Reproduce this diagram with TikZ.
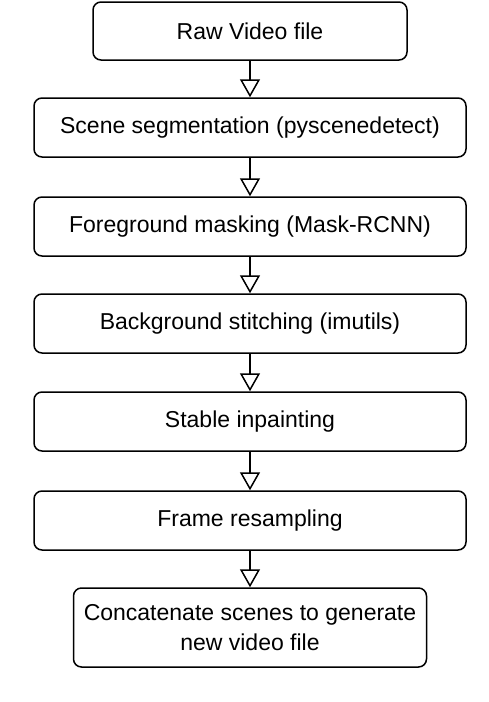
\documentclass[tikz,border=0pt]{standalone}
\usepackage{fontspec}
\setmainfont{Liberation Sans}
\usetikzlibrary{arrows.meta}

\begin{document}
\begin{tikzpicture}[x=1pt, y=-1pt,
        stepbox/.style={draw, black, line width=1.5pt, rounded corners=8pt, align=center,
                font=\fontsize{23}{30}\selectfont, minimum height=59pt, inner sep=0pt},
        flow/.style={draw, black, line width=1.5pt, -{Triangle[open, length=18pt, width=20pt]}}]
                \useasboundingbox (0,0) rectangle (488,702);
                \node[stepbox, minimum width=314pt, minimum height=58pt] (raw) at (250,31) {Raw Video file};
                \node[stepbox, minimum width=432pt] (scene) at (250,127.5) {Scene segmentation (pyscenedetect)};
                \node[stepbox, minimum width=432pt] (mask) at (250,226.5) {Foreground masking (Mask-RCNN)};
                \node[stepbox, minimum width=432pt] (stitch) at (250,323.5) {Background stitching (imutils)};
                \node[stepbox, minimum width=432pt] (inpaint) at (250,421.5) {Stable inpainting};
                \node[stepbox, minimum width=432pt] (resample) at (250,520.5) {Frame resampling};
                \node[stepbox, minimum width=353pt, minimum height=79pt] (concat) at (250,627.5) {Concatenate scenes to generate\\new video file};
                \draw[flow] (raw) -- (scene);
                \draw[flow] (scene) -- (mask);
                \draw[flow] (mask) -- (stitch);
                \draw[flow] (stitch) -- (inpaint);
                \draw[flow] (inpaint) -- (resample);
                \draw[flow] (resample) -- (concat);
            \end{tikzpicture}
\end{document}
